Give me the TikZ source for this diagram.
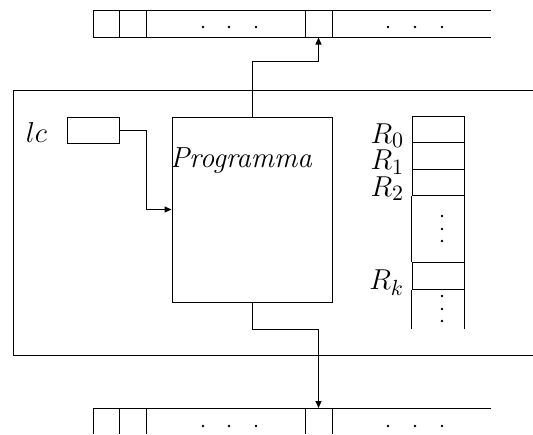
\documentclass[tikz,border=0pt]{standalone}
\usetikzlibrary{positioning,arrows.meta}

\begin{document}
\begin{tikzpicture}[x=0.5pt, y=-0.5pt, font=\fontsize{15}{18}\selectfont, line width=0.5pt,
    cell/.style={draw, inner sep=0pt, minimum width=13.5pt, minimum height=13.5pt},
    reg/.style={draw, inner sep=0pt, minimum width=26pt, minimum height=13.25pt},
    reglabel/.style={anchor=base east, inner sep=0pt, xshift=-3.5pt},
    arr/.style={-{Triangle[length=3.5pt, width=3pt]}}]

    \useasboundingbox (0,0) rectangle (533,434);

    % Output tape (top)
    \draw (491,10) -- (93,10) -- (93,37) -- (491,37);
    \foreach \x in {119,146,305} \draw (\x,10) -- (\x,37);
    \node[cell] (outcell) at (318.5,23.5) {};
    \foreach \x in {203,229,256,388,415,442} \fill (\x,27) circle (1.4);

    % Input tape (bottom)
    \draw (491,408) -- (93,408);
    \foreach \x in {93,119,146,305,332} \draw (\x,408) -- (\x,434);
    \coordinate (incell) at (318.5,408);
    \foreach \x in {203,229,256,388,415,442} \fill (\x,426) circle (1.4);

    % Machine
    \draw (533,90) -- (13,90) -- (13,355) -- (533,355);

    % Counter lc
    \node[draw, inner sep=0pt, minimum width=26pt, minimum height=13pt] (lc) at (93,130) {};
    \node[anchor=base east, inner sep=0pt] (lclabel) at ([xshift=-9.5pt, yshift=-6pt]lc.west) {$lc$};

    % Program
    \node[draw, inner sep=0pt, minimum width=80pt, minimum height=92.5pt] (prog) at (252,209.5) {};
    \node[anchor=base west, inner sep=0pt, font=\fontsize{14.5}{17}\selectfont\itshape] (progname)
        at ([xshift=-1pt, yshift=-25.5pt]prog.north west) {Programma};

    % Registers
    \node[reg] (r0) at (438,129.5) {};
    \node[reg] (r1) at (438,156) {};
    \node[reg] (r2) at (438,182.5) {};
    \node[reg] (rk) at (438,276) {};
    \draw (r2.south west) -- (rk.north west);
    \draw (r2.south east) -- (rk.north east);
    \draw (rk.south west) -- ++(0,39);
    \draw (rk.south east) -- ++(0,39);
    \foreach \y in {216,229,241,296,309,321} \fill (442,\y) circle (1.4);
    \node[reglabel] at (r0.south west) {$R_0$};
    \node[reglabel] at (r1.south west) {$R_1$};
    \node[reglabel] at (r2.south west) {$R_2$};
    \node[reglabel] at (rk.south west) {$R_k$};

    % Connections
    \draw[arr] (lc.east) -- ++(27,0) |- (prog.west);
    \draw[arr] (prog.north) -- ++(0,-55) -| (outcell.south);
    \draw[arr] (prog.south) -- ++(0,27) -| (incell);

\end{tikzpicture}
\end{document}
